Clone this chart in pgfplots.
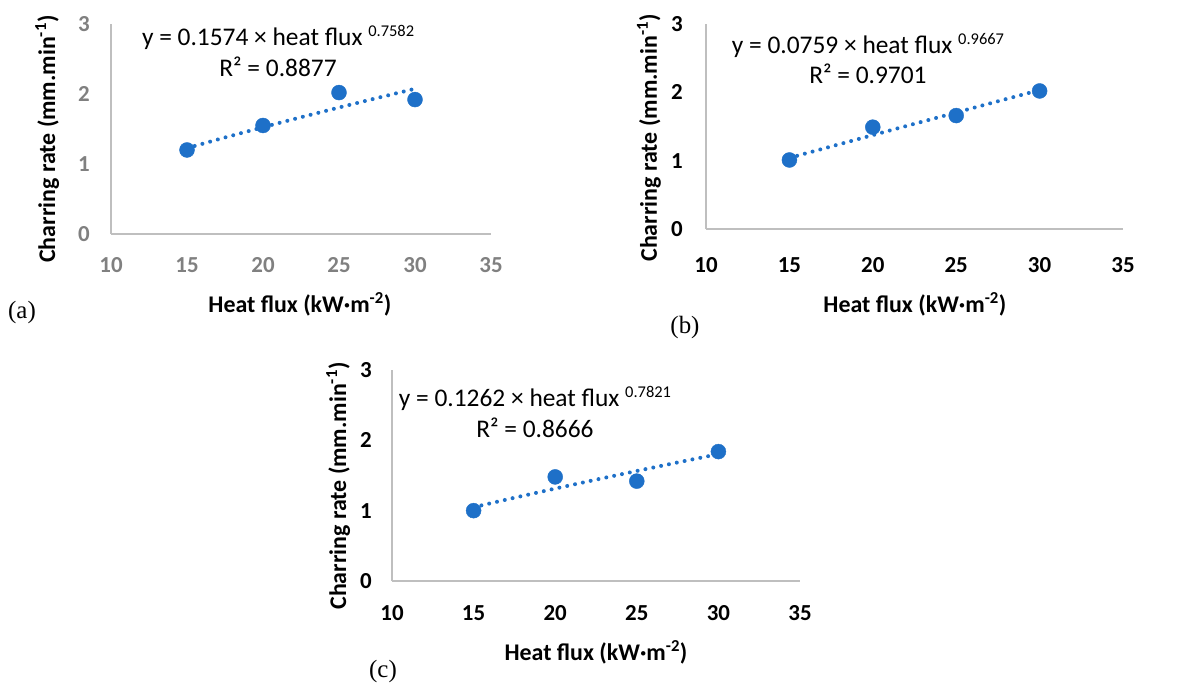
\documentclass[border=0pt]{standalone}
\usepackage{fontspec}
\setmainfont{Carlito}
\newfontfamily\capfont{Liberation Serif}
\usepackage{pgfplots}
\pgfplotsset{compat=1.18}

\definecolor{ptblue}{RGB}{30,112,200}
\definecolor{axgray}{RGB}{191,191,191}
\definecolor{tickgray}{RGB}{128,128,128}

\pgfplotsset{
  charstyle/.style={
    scale only axis,
    xmin=10, xmax=35, ymin=0, ymax=3,
    xtick={10,15,20,25,30,35}, ytick={0,1,2,3},
    axis x line*=bottom, axis y line*=left,
    axis line style={draw=axgray, line width=1.5bp},
    major tick length=0pt,
    tick label style={font=\fontsize{23}{27}\selectfont\bfseries},
    /pgf/number format/assume math mode=true,
    label style={font=\fontsize{24}{28}\selectfont\bfseries},
    xlabel={Heat flux (kW·m\textsuperscript{-2})},
    ylabel={Charring rate (mm.min\textsuperscript{-1})},
    clip=false,
  },
  trend/.style={ptblue, line width=4bp, dash pattern=on 0bp off 8bp, line cap=round},
  pts/.style={only marks, mark=*, mark size=7.5bp, ptblue, mark options={draw=ptblue, fill=ptblue}},
}

\newcommand{\expo}[1]{\raisebox{9bp}{\fontsize{16.5}{16.5}\selectfont #1}}

\begin{document}
\begin{tikzpicture}
\useasboundingbox (0bp,0bp) rectangle (1195bp,685bp);

% (a)
\begin{axis}[charstyle, at={(111bp,451bp)}, anchor=south west,
  width=380bp, height=210bp,
  tick label style={text=tickgray},
  xticklabel style={anchor=center, yshift=-31bp},
  yticklabel style={anchor=center, xshift=-27bp},
  xlabel style={at={(axis description cs:0.497,-0.333)}, anchor=center},
  ylabel style={at={(axis description cs:-0.168,0.452)}, anchor=center}]
\addplot[trend] coordinates {
  (15,1.2266) (17.5,1.3787) (20,1.5256) (22.5,1.6681) (25,1.8068) (27.5,1.9423) (30,2.0747)
};
\addplot[pts] coordinates {(15,1.20) (20,1.55) (25,2.02) (30,1.92)};
\node[align=center, font=\fontsize{25.5}{31}\selectfont] at (axis cs:20.99,2.62)
  {y = 0.1574 × heat flux \expo{0.7582}\\R² = 0.8877};
\end{axis}

% (b)
\begin{axis}[charstyle, at={(706bp,456bp)}, anchor=south west,
  width=417bp, height=205bp,
  xticklabel style={anchor=center, yshift=-36bp},
  yticklabel style={anchor=center, xshift=-29bp},
  xlabel style={at={(axis description cs:0.501,-0.366)}, anchor=center},
  ylabel style={at={(axis description cs:-0.137,0.444)}, anchor=center}]
\addplot[trend] coordinates {
  (15,1.0404) (17.5,1.2075) (20,1.3740) (22.5,1.5396) (25,1.7048) (27.5,1.8693) (30,2.0332)
};
\addplot[pts] coordinates {(15,1.01) (20,1.49) (25,1.66) (30,2.02)};
\node[align=center, font=\fontsize{25.5}{30}\selectfont] at (axis cs:19.71,2.50)
  {y = 0.0759 × heat flux \expo{0.9667}\\R² = 0.9701};
\end{axis}

% (c)
\begin{axis}[charstyle, at={(392bp,104bp)}, anchor=south west,
  width=408bp, height=211bp,
  xticklabel style={anchor=center, yshift=-32bp},
  yticklabel style={anchor=center, xshift=-26bp},
  xlabel style={at={(axis description cs:0.5,-0.336)}, anchor=center},
  ylabel style={at={(axis description cs:-0.132,0.450)}, anchor=center}]
\addplot[trend] coordinates {
  (15,1.0493) (17.5,1.1837) (20,1.3140) (22.5,1.4408) (25,1.5645) (27.5,1.6856) (30,1.8043)
};
\addplot[pts] coordinates {(15,1.00) (20,1.48) (25,1.42) (30,1.84)};
\node[align=center, font=\fontsize{25.5}{31}\selectfont] at (axis cs:18.76,2.40)
  {y = 0.1262 × heat flux \expo{0.7821}\\R² = 0.8666};
\end{axis}

\node[font=\capfont\fontsize{25}{25}\selectfont] at (22bp,372bp) {(a)};
\node[font=\capfont\fontsize{25}{25}\selectfont] at (685bp,357bp) {(b)};
\node[font=\capfont\fontsize{25}{25}\selectfont] at (383bp,13bp) {(c)};
\end{tikzpicture}
\end{document}
